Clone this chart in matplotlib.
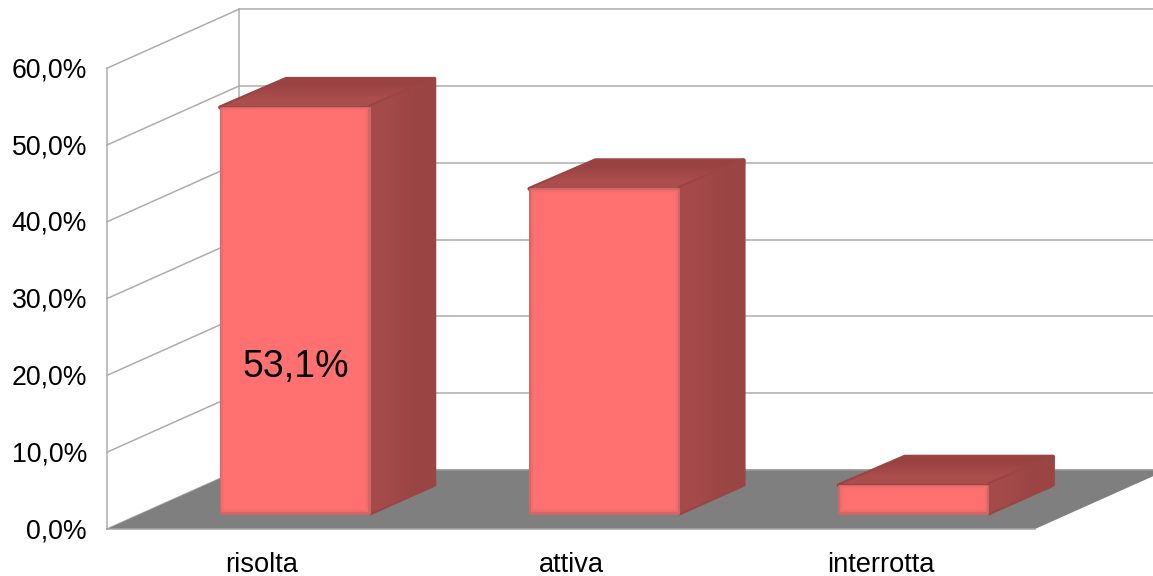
"""
Pseudo-3D column chart (Excel style) drawn on a plain 2D axes.
The axes runs in pixels, a small helper projects value/depth to the picture.
"""
import numpy as np
import matplotlib
matplotlib.use('Agg')
import matplotlib.pyplot as plt
from matplotlib.colors import LinearSegmentedColormap
from matplotlib.patches import Polygon

plt.rcParams['font.family'] = ['Liberation Sans', 'DejaVu Sans']

# ------------------------------
# Data
# ------------------------------
categories = ['risolta', 'attiva', 'interrotta']
values = [53.1, 42.5, 3.9]
ticks = [0, 10, 20, 30, 40, 50, 60]
tick_labels = ['0,0%', '10,0%', '20,0%', '30,0%', '40,0%', '50,0%', '60,0%']
shown_label = '53,1%'

# ------------------------------
# Geometry of the fake 3D box
# ------------------------------
W, H = 1153, 576
x0, x1 = 107, 1035      # front edge of the floor
y0 = 529                # value 0 at the front
px_per_unit = 7.68
dx, dy = 132, -59       # depth of the whole box
bar_w = 151
depth_a, depth_b = 0.25, 0.75   # bars sit between these depth fractions


def val_y(v, d=0.0):
    return y0 - v * px_per_unit + d * dy


def face(ax, pts, fc, ec, lw, z):
    p = Polygon(pts, closed=True, fc=fc, ec=ec, lw=lw, joinstyle='round', zorder=z)
    ax.add_patch(p)
    return p


fig = plt.figure(figsize=(W / 100, H / 100), dpi=100, facecolor='white')
ax = fig.add_axes([0, 0, 1, 1])
ax.axis('off')

# ------------------------------
# Walls, gridlines, floor
# ------------------------------
grid_c = '#adadad'
top = ticks[-1]
for t in ticks:
    ax.plot([x0, x0 + dx], [val_y(t), val_y(t, 1)], color=grid_c, lw=1.1, zorder=1)
    ax.plot([x0 + dx, W + 20], [val_y(t, 1)] * 2, color=grid_c, lw=1.1, zorder=1)
ax.plot([x0, x0], [val_y(0), val_y(top)], color=grid_c, lw=1.1, zorder=1)
ax.plot([x0 + dx] * 2, [val_y(0, 1), val_y(top, 1)], color=grid_c, lw=1.1, zorder=1)

floor = [(x0, val_y(0)), (x1, val_y(0)), (x1 + dx, val_y(0, 1)), (x0 + dx, val_y(0, 1))]
face(ax, floor, '#7f7f7f', 'none', 0, 2)
ax.plot([x0, x1], [val_y(0), val_y(0)], color='#a6a6a6', lw=1.1, zorder=2)
ax.plot([x0 + dx, W + 20], [val_y(0, 1)] * 2, color='#999999', lw=1.1, zorder=2)

# ------------------------------
# Bars
# ------------------------------
slot = (x1 - x0) / len(categories)
top_cmap = LinearSegmentedColormap.from_list('top', ['#984242', '#aa4d4d'])
side_cmap = LinearSegmentedColormap.from_list('side', ['#a44a4a', '#9a4444'])
ddx = (depth_b - depth_a) * dx
ddy = (depth_b - depth_a) * dy

for i, (cat, v) in enumerate(zip(categories, values)):
    cx = x0 + (i + 0.5) * slot
    left = cx + depth_a * dx - bar_w / 2
    right = left + bar_w
    yb = val_y(0, depth_a)
    yt = val_y(v, depth_a)

    # top and side, inset a little so the round joins stay inside the outline
    top_pts = [(left + 1, yt + 1), (right, yt + 1), (right + ddx - 2, yt + ddy + 2), (left + ddx + 1, yt + ddy + 2)]
    side_pts = [(right, yb - 1), (right + ddx - 2, yb + ddy), (right + ddx - 2, yt + ddy + 2), (right, yt)]

    face(ax, top_pts, '#a34949', '#9a4444', 3.0, 3)
    im = ax.imshow(np.array([[0.0], [1.0]]), extent=(left, right + ddx, yt, yt + ddy), cmap=top_cmap,
                   aspect='auto', zorder=3.1, interpolation='bilinear')
    im.set_clip_path(face(ax, top_pts, 'none', 'none', 0, 3.1))

    face(ax, side_pts, '#9c4545', '#9a4444', 3.0, 3.2)
    im = ax.imshow(np.array([[0.0, 1.0]]), extent=(right, right + ddx, yb, yt + ddy), cmap=side_cmap,
                   aspect='auto', zorder=3.3, interpolation='bilinear')
    im.set_clip_path(face(ax, side_pts, 'none', 'none', 0, 3.3))

    # soft darker rim, then the flat colour
    outer = [(left + 1.5, yb - 1.5), (right - 1.5, yb - 1.5), (right - 1.5, yt + 1.5), (left + 1.5, yt + 1.5)]
    inner = [(left + 3, yb - 3), (right - 3, yb - 3), (right - 3, yt + 3), (left + 3, yt + 3)]
    face(ax, outer, '#ff7070', '#d06666', 2.2, 4)
    face(ax, inner, '#ff7070', '#f06d6d', 1.6, 4.1)

    ax.text(cx, 564.5, cat, ha='center', va='center', fontsize=19.6, color='black', zorder=6)

    if i == 0:
        ax.text(left + bar_w / 2 + 1, 367, shown_label, ha='center', va='center',
                fontsize=27, color='black', zorder=6)

# ------------------------------
# Value axis labels
# ------------------------------
for t, lab in zip(ticks, tick_labels):
    ax.text(87, val_y(t) + 2, lab, ha='right', va='center', fontsize=19.2, color='black', zorder=6)

ax.set_xlim(0, W)
ax.set_ylim(H, 0)
fig.savefig('out.png', dpi=100, facecolor='white')
